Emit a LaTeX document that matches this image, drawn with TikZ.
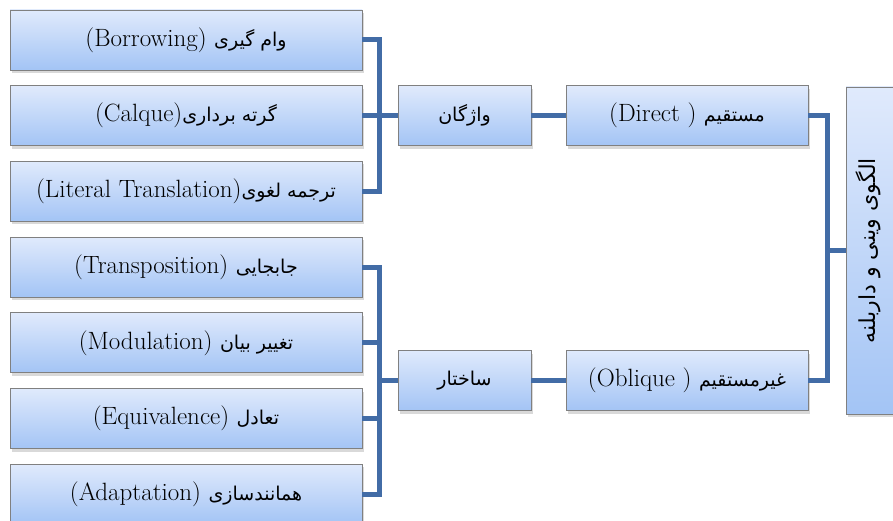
\documentclass[tikz,border=0pt]{standalone}
\usepackage{fontspec}
\newfontfamily\persianfont[Script=Arabic]{DejaVu Sans}
\TeXXeTstate=1
\usetikzlibrary{shadows}
\definecolor{linkblue}{RGB}{66,108,166}
\definecolor{boxtop}{RGB}{224,234,252}
\definecolor{boxbot}{RGB}{163,196,245}
\definecolor{boxedge}{RGB}{128,128,128}
% Persian run, set right to left
\newcommand\fatext[2][19]{{\persianfont\fontsize{#1}{#1}\selectfont\beginR #2\endR}}
\tikzset{
  box/.style={draw=boxedge, line width=0.8pt, top color=boxtop, bottom color=boxbot,
    drop shadow={opacity=0.3, shadow xshift=2pt, shadow yshift=-3pt},
    minimum height=60pt, inner sep=0pt, font=\fontsize{25}{28}\selectfont},
  leaf/.style={box, minimum width=352pt},
  midbox/.style={box, minimum width=133pt},
  kindbox/.style={box, minimum width=242pt},
  conn/.style={draw=linkblue, line width=5pt}
}
\begin{document}
\begin{tikzpicture}[x=1pt,y=1pt]
\useasboundingbox (0,0) rectangle (893,-521);
% technique boxes
\node[leaf] (b1) at (186,-40)    {(Borrowing) \fatext{وام گیری}};
\node[leaf] (b2) at (186,-115.7) {(Calque)\fatext{گرته برداری}};
\node[leaf] (b3) at (186,-191.4) {(Literal Translation)\fatext{ترجمه لغوی}};
\node[leaf] (b4) at (186,-267.1) {(Transposition) \fatext{جابجایی}};
\node[leaf] (b5) at (186,-342.8) {(Modulation) \fatext{تغییر بیان}};
\node[leaf] (b6) at (186,-418.5) {(Equivalence) \fatext{تعادل}};
\node[leaf] (b7) at (186,-494.2) {(Adaptation) \fatext{همانندسازی}};
% level boxes
\node[midbox] (w) at (464.5,-115.7) {\fatext{واژگان}};
\node[midbox] (s) at (464.5,-380.5) {\fatext{ساختار}};
% kind boxes
\node[kindbox] (d) at (687,-115.7) {(Direct ) \fatext{مستقیم}};
\node[kindbox] (o) at (687,-380.5) {(Oblique ) \fatext{غیرمستقیم}};
% model box
\node[box, minimum width=56pt, minimum height=327pt] (r) at (874,-250.5)
  {\rotatebox{90}{\fatext[22]{الگوی وینی و داربلنه}}\hspace*{12pt}};
% bus points
\coordinate (busA) at (379.5,-115.7);
\coordinate (busB) at (379.5,-380.5);
\coordinate (busC) at (827.5,-250.5);
% connectors
\draw[conn] (b1.east) -| (busA) |- (b3.east);
\draw[conn] (b2.east) -- (w.west);
\draw[conn] (b4.east) -| (busB) |- (b7.east);
\draw[conn] (b5.east) -- (b5.east -| busB);
\draw[conn] (b6.east) -- (b6.east -| busB);
\draw[conn] (busB) -- (s.west);
\draw[conn] (w.east) -- (d.west);
\draw[conn] (s.east) -- (o.west);
\draw[conn] (d.east) -| (busC) |- (o.east);
\draw[conn] (busC) -- (r.west);
\end{tikzpicture}
\end{document}
